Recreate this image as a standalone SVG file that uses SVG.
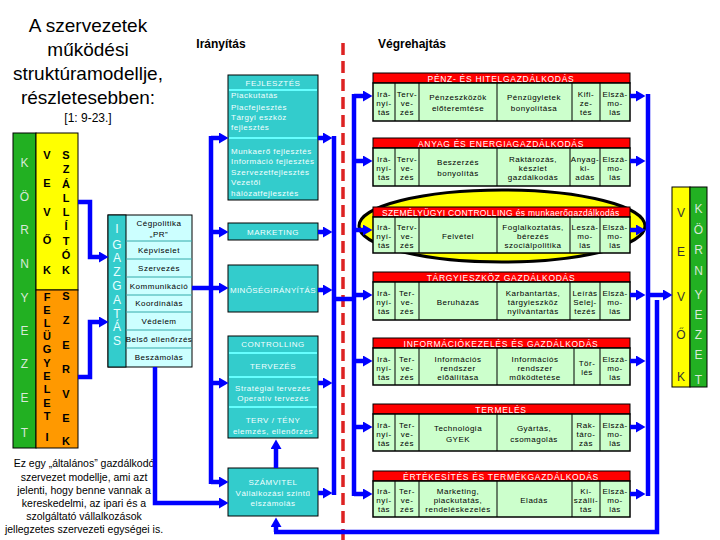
<svg xmlns="http://www.w3.org/2000/svg" width="720" height="540" viewBox="0 0 720 540">
<defs>
<marker id="ah" markerUnits="userSpaceOnUse" markerWidth="10" markerHeight="11" refX="0" refY="5.5" orient="auto">
<path d="M0,0 L9.5,5.5 L0,11 z" fill="#0000FF"/>
</marker>
</defs>
<style>
.s{font-family:"Liberation Sans",Arial,sans-serif;font-size:8px;letter-spacing:0.5px;fill:#000}
.c{text-anchor:middle}
.w{fill:#F2FFFF}
.hd{font-family:"Liberation Sans",Arial,sans-serif;font-size:8.5px;letter-spacing:0.7px;fill:#fff;text-anchor:middle}
.red{fill:#FF0000;stroke:#000;stroke-width:1}
.body{fill:#CCFFCC;stroke:#000;stroke-width:1.5}
.div{stroke:#000;stroke-width:1}
.teal{fill:#33CCCC;stroke:#000;stroke-width:1}
.sep{stroke:#66FFFF;stroke-width:2}
.bl{fill:none;stroke:#0000FF;stroke-width:4.5}
.ar{fill:none;stroke:#0000FF;stroke-width:4.5;marker-end:url(#ah)}
.big{font-family:"Liberation Sans",Arial,sans-serif;font-size:19px;fill:#000;text-anchor:middle}
.lt{font-family:"Liberation Sans",Arial,sans-serif;font-size:12px;text-anchor:middle}
.bd{font-family:"Liberation Sans",Arial,sans-serif;font-size:11px;font-weight:bold;text-anchor:middle;fill:#000}
.p{font-family:"Liberation Sans",Arial,sans-serif;font-size:10.5px;fill:#000;text-anchor:middle}
</style>
<rect width="720" height="540" fill="#fff"/>

<g id="title">
<text class="big" x="88" y="32">A szervezetek</text>
<text class="big" x="88" y="56">működési</text>
<text class="big" x="88" y="80">struktúramodellje,</text>
<text class="big" x="88" y="104">részletesebben:</text>
<text x="88" y="122" font-family="Liberation Sans, Arial, sans-serif" font-size="12" text-anchor="middle">[1: 9-23.]</text>
</g>
<g id="headers">
<text x="221" y="48" font-family="Liberation Sans, Arial, sans-serif" font-size="12" font-weight="bold" text-anchor="middle">Irányítás</text>
<text x="412" y="48" font-family="Liberation Sans, Arial, sans-serif" font-size="12" font-weight="bold" text-anchor="middle">Végrehajtás</text>
</g>

<line x1="343" y1="43" x2="343" y2="540" stroke="#DD2222" stroke-width="3.5" stroke-dasharray="12,6"/>

<g id="kornyezet-left">
<rect x="13" y="133" width="23" height="315" fill="#22B022" stroke="#000"/>
<g class="lt" fill="#D8E8D8">
<text x="24.5" y="167">K</text><text x="24.5" y="201">Ö</text><text x="24.5" y="234">R</text><text x="24.5" y="268">N</text><text x="24.5" y="302">Y</text><text x="24.5" y="335">E</text><text x="24.5" y="368">Z</text><text x="24.5" y="402">E</text><text x="24.5" y="437">T</text>
</g>
</g>
<g id="vevok-szallitok">
<rect x="36" y="133" width="42" height="157" fill="#FFFF00" stroke="#000"/>
<g class="bd">
<text x="47" y="159">V</text><text x="47" y="187">E</text><text x="47" y="216">V</text><text x="47" y="244">Ő</text><text x="47" y="274">K</text>
<text x="66" y="159">S</text><text x="66" y="173">Z</text><text x="66" y="188">Á</text><text x="66" y="202">L</text><text x="66" y="216">L</text><text x="66" y="230">Í</text><text x="66" y="245">T</text><text x="66" y="259">Ó</text><text x="66" y="274">K</text>
</g>
</g>
<g id="felugyeleti-szervek">
<rect x="36" y="290" width="42" height="158" fill="#FF9900" stroke="#000"/>
<g class="bd">
<text x="47" y="301">F</text><text x="47" y="314">E</text><text x="47" y="327">L</text><text x="47" y="340">Ü</text><text x="47" y="353">G</text><text x="47" y="367">Y</text><text x="47" y="380">E</text><text x="47" y="393">L</text><text x="47" y="407">E</text><text x="47" y="420">T</text><text x="47" y="441">I</text>
<text x="66" y="300">S</text><text x="66" y="324">Z</text><text x="66" y="349">E</text><text x="66" y="373">R</text><text x="66" y="398">V</text><text x="66" y="422">E</text><text x="66" y="445">K</text>
</g>
</g>

<g id="igazgatas">
<rect x="108" y="215" width="84" height="152" fill="#CCFFFF" stroke="#000"/>
<rect x="108" y="215" width="18" height="152" fill="#33CCCC" stroke="#000"/>
<g stroke="#33AAAA" stroke-width="1">
<line x1="126" y1="241" x2="192" y2="241"/><line x1="126" y1="259" x2="192" y2="259"/><line x1="126" y1="277" x2="192" y2="277"/><line x1="126" y1="295" x2="192" y2="295"/><line x1="126" y1="312" x2="192" y2="312"/><line x1="126" y1="330" x2="192" y2="330"/><line x1="126" y1="348" x2="192" y2="348"/>
</g>
<g class="lt" fill="#E8FFFF" font-size="11">
<text x="117" y="233">I</text><text x="117" y="249">G</text><text x="117" y="262">A</text><text x="117" y="276">Z</text><text x="117" y="290">G</text><text x="117" y="304">A</text><text x="117" y="318">T</text><text x="117" y="331">Á</text><text x="117" y="345">S</text>
</g>
<g class="s c">
<text x="159" y="226">Cégpolitika</text><text x="159" y="237">„PR”</text>
<text x="159" y="253">Képviselet</text><text x="159" y="271">Szervezés</text><text x="159" y="289">Kommunikáció</text><text x="159" y="306">Koordinálás</text><text x="159" y="324">Védelem</text><text x="159" y="342">Belső ellenőrzés</text><text x="159" y="360">Beszámolás</text>
</g>
</g>

<g id="fejlesztes">
<rect class="teal" x="228" y="75" width="90" height="125"/>
<line class="sep" x1="229" y1="90" x2="317" y2="90"/>
<line class="sep" x1="229" y1="138" x2="317" y2="138"/>
<g class="s w">
<text class="c" x="273" y="86">FEJLESZTÉS</text>
<text x="231" y="98">Piackutatás</text><text x="231" y="110">Piacfejlesztés</text><text x="231" y="120">Tárgyi eszköz</text><text x="231" y="130">fejlesztés</text>
<text x="231" y="154">Munkaerő fejlesztés</text><text x="231" y="164">Információ fejlesztés</text><text x="231" y="175">Szervezetfejlesztés</text><text x="231" y="185">Vezetői</text><text x="231" y="196">hálózatfejlesztés</text>
</g>
</g>
<g id="marketing">
<rect class="teal" x="228" y="223" width="90" height="17"/>
<text class="s w c" x="273" y="235">MARKETING</text>
</g>
<g id="minosegiranyitas">
<rect class="teal" x="228" y="265" width="90" height="47"/>
<text class="s w c" x="273" y="293" textLength="86" lengthAdjust="spacing">MINŐSÉGIRÁNYÍTÁS</text>
</g>
<g id="controlling">
<rect class="teal" x="228" y="336" width="90" height="102"/>
<line class="sep" x1="229" y1="353" x2="317" y2="353"/>
<line class="sep" x1="229" y1="377" x2="317" y2="377"/>
<line class="sep" x1="229" y1="407" x2="317" y2="407"/>
<g class="s w c">
<text x="273" y="347">CONTROLLING</text><text x="273" y="369">TERVEZÉS</text><text x="273" y="391">Stratégiai tervezés</text><text x="273" y="401">Operatív tervezés</text><text x="273" y="423">TERV / TÉNY</text><text x="273" y="434">elemzés, ellenőrzés</text>
</g>
</g>
<g id="szamvitel">
<rect class="teal" x="228" y="468" width="90" height="48"/>
<g class="s w c">
<text x="273" y="485">SZÁMVITEL</text><text x="273" y="496">Vállalkozási szintű</text><text x="273" y="506">elszámolás</text>
</g>
</g>

<ellipse id="ellipse" cx="502" cy="226" rx="143" ry="36" fill="#FFFF00" stroke="#000" stroke-width="3"/>

<g id="row1">
<rect class="red" x="373" y="73" width="257" height="10"/><text class="hd" x="501" y="81.5">PÉNZ- ÉS HITELGAZDÁLKODÁS</text>
<rect class="body" x="373" y="83" width="257" height="38"/>
<path class="div" d="M395,83V121M419,83V121M497,83V121M572,83V121M600,83V121"/>
<g class="s c"><text x="384" y="97">Irá-</text><text x="384" y="106">nyí-</text><text x="384" y="115">tás</text>
<text x="407" y="97">Terv-</text><text x="407" y="106">ve-</text><text x="407" y="115">zés</text>
<text x="458" y="100">Pénzeszközök</text><text x="458" y="111">előteremtése</text>
<text x="534" y="100">Pénzügyletek</text><text x="534" y="111">bonyolítása</text>
<text x="586" y="97">Kifi-</text><text x="586" y="106">ze-</text><text x="586" y="115">tés</text>
<text x="615" y="97">Elszá-</text><text x="615" y="106">mo-</text><text x="615" y="115">lás</text></g>
</g>
<g id="row2">
<rect class="red" x="373" y="138" width="257" height="10"/><text class="hd" x="501" y="146.5">ANYAG ÉS ENERGIAGAZDÁLKODÁS</text>
<rect class="body" x="373" y="148" width="257" height="38"/>
<path class="div" d="M395,148V186M419,148V186M497,148V186M570,148V186M600,148V186"/>
<g class="s c"><text x="384" y="162">Irá-</text><text x="384" y="171">nyí-</text><text x="384" y="180">tás</text>
<text x="407" y="162">Terv-</text><text x="407" y="171">ve-</text><text x="407" y="180">zés</text>
<text x="458" y="165">Beszerzés</text><text x="458" y="176">bonyolítás</text>
<text x="533" y="162">Raktározás,</text><text x="533" y="171">készlet</text><text x="533" y="180">gazdálkodás</text>
<text x="585" y="162">Anyag-</text><text x="585" y="171">ki-</text><text x="585" y="180">adás</text>
<text x="615" y="162">Elszá-</text><text x="615" y="171">mo-</text><text x="615" y="180">lás</text></g>
</g>
<g id="row3">
<rect class="red" x="373" y="207" width="257" height="10"/><text class="hd" x="501" y="215.5" textLength="238" lengthAdjust="spacing">SZEMÉLYÜGYI CONTROLLING és munkaerőgazdálkodás</text>
<rect class="body" x="373" y="217" width="257" height="36"/>
<path class="div" d="M395,217V253M419,217V253M497,217V253M570,217V253M600,217V253"/>
<g class="s c"><text x="384" y="230">Irá-</text><text x="384" y="239">nyí-</text><text x="384" y="248">tás</text>
<text x="407" y="230">Terv-</text><text x="407" y="239">ve-</text><text x="407" y="248">zés</text>
<text x="458" y="239">Felvétel</text>
<text x="533" y="230">Foglalkoztatás,</text><text x="533" y="239">bérezés</text><text x="533" y="248">szociálpolitika</text>
<text x="585" y="230">Leszá-</text><text x="585" y="239">mo-</text><text x="585" y="248">lás</text>
<text x="615" y="230">Elszá-</text><text x="615" y="239">mo-</text><text x="615" y="248">lás</text></g>
</g>
<g id="row4">
<rect class="red" x="373" y="272" width="257" height="10"/><text class="hd" x="501" y="280.5">TÁRGYIESZKÖZ GAZDÁLKODÁS</text>
<rect class="body" x="373" y="282" width="257" height="38"/>
<path class="div" d="M395,282V320M419,282V320M497,282V320M570,282V320M600,282V320"/>
<g class="s c"><text x="384" y="296">Irá-</text><text x="384" y="305">nyí-</text><text x="384" y="314">tás</text>
<text x="407" y="296">Ter-</text><text x="407" y="305">ve-</text><text x="407" y="314">zés</text>
<text x="458" y="305">Beruházás</text>
<text x="533" y="296">Karbantartás,</text><text x="533" y="305">tárgyieszköz</text><text x="533" y="314">nyilvántartás</text>
<text x="585" y="296">Leírás</text><text x="585" y="305">Selej-</text><text x="585" y="314">tezés</text>
<text x="615" y="296">Elszá-</text><text x="615" y="305">mo-</text><text x="615" y="314">lás</text></g>
</g>
<g id="row5">
<rect class="red" x="373" y="338" width="257" height="10"/><text class="hd" x="501" y="346.5">INFORMÁCIÓKEZELÉS ÉS GAZDÁLKODÁS</text>
<rect class="body" x="373" y="348" width="257" height="37"/>
<path class="div" d="M395,348V385M419,348V385M497,348V385M574,348V385M600,348V385"/>
<g class="s c"><text x="384" y="362">Irá-</text><text x="384" y="371">nyí-</text><text x="384" y="380">tás</text>
<text x="407" y="362">Ter-</text><text x="407" y="371">ve-</text><text x="407" y="380">zés</text>
<text x="458" y="362">Információs</text><text x="458" y="371">rendszer</text><text x="458" y="380">előállítása</text>
<text x="535" y="362">Információs</text><text x="535" y="371">rendszer</text><text x="535" y="380">működtetése</text>
<text x="587" y="366">Tör-</text><text x="587" y="375">lés</text>
<text x="615" y="362">Elszá-</text><text x="615" y="371">mo-</text><text x="615" y="380">lás</text></g>
</g>
<g id="row6">
<rect class="red" x="373" y="404" width="257" height="10"/><text class="hd" x="501" y="412.5">TERMELÉS</text>
<rect class="body" x="373" y="414" width="257" height="37"/>
<path class="div" d="M395,414V451M419,414V451M497,414V451M572,414V451M600,414V451"/>
<g class="s c"><text x="384" y="428">Irá-</text><text x="384" y="437">nyí-</text><text x="384" y="446">tás</text>
<text x="407" y="428">Ter-</text><text x="407" y="437">ve-</text><text x="407" y="446">zés</text>
<text x="458" y="431">Technológia</text><text x="458" y="442">GYEK</text>
<text x="534" y="431">Gyártás,</text><text x="534" y="442">csomagolás</text>
<text x="586" y="428">Rak-</text><text x="586" y="437">táro-</text><text x="586" y="446">zás</text>
<text x="615" y="428">Elszá-</text><text x="615" y="437">mo-</text><text x="615" y="446">lás</text></g>
</g>
<g id="row7">
<rect class="red" x="373" y="471" width="257" height="10"/><text class="hd" x="501" y="479.5">ÉRTÉKESÍTÉS ÉS TERMÉKGAZDÁLKODÁS</text>
<rect class="body" x="373" y="481" width="257" height="36"/>
<path class="div" d="M395,481V517M419,481V517M497,481V517M572,481V517M600,481V517"/>
<g class="s c"><text x="384" y="494">Irá-</text><text x="384" y="503">nyí-</text><text x="384" y="512">tás</text>
<text x="407" y="494">Ter-</text><text x="407" y="503">ve-</text><text x="407" y="512">zés</text>
<text x="458" y="494">Marketing,</text><text x="458" y="503">piackutatás,</text><text x="458" y="512">rendeléskezelés</text>
<text x="534" y="503">Eladás</text>
<text x="586" y="494">Ki-</text><text x="586" y="503">szállí-</text><text x="586" y="512">tás</text>
<text x="615" y="494">Elszá-</text><text x="615" y="503">mo-</text><text x="615" y="512">lás</text></g>
</g>

<g id="vevok-kornyezet-right">
<rect x="672" y="187" width="18" height="200" fill="#FFFF00" stroke="#000"/>
<rect x="690" y="187" width="17" height="200" fill="#22B022" stroke="#000"/>
<g class="lt" font-size="13" fill="#333">
<text x="681" y="217">V</text><text x="681" y="256">E</text><text x="681" y="301">V</text><text x="681" y="339">Ő</text><text x="681" y="381">K</text>
</g>
<g class="lt" font-size="13" fill="#D8E8D8">
<text x="698.5" y="213">K</text><text x="698.5" y="234">Ö</text><text x="698.5" y="254">R</text><text x="698.5" y="275">N</text><text x="698.5" y="299">Y</text><text x="698.5" y="319">E</text><text x="698.5" y="339">Z</text><text x="698.5" y="359">E</text><text x="698.5" y="384">T</text>
</g>
</g>

<g id="note">
<text class="p" x="84" y="467">Ez egy „általános” gazdálkodó</text>
<text class="p" x="84" y="481">szervezet modellje, ami azt</text>
<text class="p" x="84" y="494">jelenti, hogy benne vannak a</text>
<text class="p" x="84" y="507">kereskedelmi, az ipari és a</text>
<text class="p" x="84" y="520">szolgáltató vállalkozások</text>
<text class="p" x="84" y="533">jellegzetes szervezeti egységei is.</text>
</g>

<g id="connectors">
<path class="ar" d="M78,202 H90 V257 H99"/>
<path class="ar" d="M78,377 H90 V322 H99"/>
<path class="bl" d="M211,136 V484"/>
<path class="ar" d="M211,138 H219"/>
<path class="ar" d="M211,232 H219"/>
<path class="ar" d="M192,288 H219"/>
<path class="ar" d="M211,383 H219"/>
<path class="ar" d="M211,482 H219"/>
<path class="ar" d="M155,367 V503 H219"/>
<path class="ar" d="M276,468 V449"/>
<path class="ar" d="M276,532 V527"/>
<path class="ar" d="M318,138 H323"/>
<path class="ar" d="M318,232 H323"/>
<path class="ar" d="M318,290 H323"/>
<path class="ar" d="M318,383 H323"/>
<path class="ar" d="M318,493 H323"/>
<path class="bl" d="M334,136 V495"/>
<path class="bl" d="M334,299 H354"/>
<path class="bl" d="M354,94 V496"/>
<path class="ar" d="M354,96 H363"/>
<path class="ar" d="M354,161 H363"/>
<path class="ar" d="M354,230 H363"/>
<path class="ar" d="M354,295 H363"/>
<path class="ar" d="M354,361 H363"/>
<path class="ar" d="M354,427 H363"/>
<path class="ar" d="M354,494 H363"/>
<path class="ar" d="M630,96 H636"/>
<path class="ar" d="M630,161 H636"/>
<path class="ar" d="M630,230 H636"/>
<path class="ar" d="M630,295 H636"/>
<path class="ar" d="M630,361 H636"/>
<path class="ar" d="M630,427 H636"/>
<path class="ar" d="M630,494 H636"/>
<path class="bl" d="M648,94 V496"/>
<path class="ar" d="M648,295 H663"/>
<path class="bl" d="M657,300 V532 H274"/>
</g>
</svg>
